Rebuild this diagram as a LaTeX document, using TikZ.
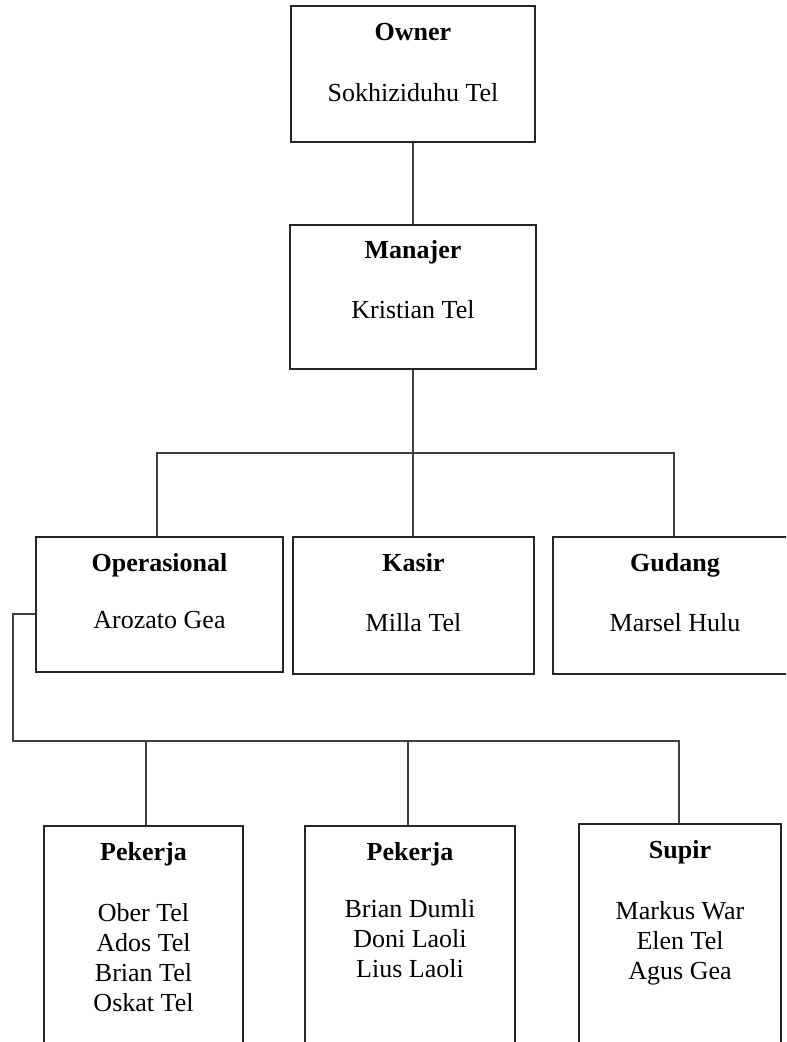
\documentclass[tikz,border=0pt]{standalone}
\usepackage{fontspec}
\setmainfont{Liberation Serif}
\usepackage{tikz}

\begin{document}
\begin{tikzpicture}[
        box/.style={draw=black!85, line width=1.3pt, inner sep=0pt},
        ttl/.style={font=\fontsize{18.5}{21.3}\selectfont\bfseries, text height=12.2pt, text depth=0pt, inner sep=0pt},
        nm/.style={font=\fontsize{18.5}{21.3}\selectfont, text height=12.2pt, text depth=0pt, inner sep=0pt},
        lst/.style={font=\fontsize{18.5}{21.3}\selectfont, align=center, anchor=north, inner sep=0pt},
        conn/.style={draw=black!75, line width=0.9pt}
    ]
        \useasboundingbox (0, 0) rectangle (19.65, 26.05);
        \clip (0, 0) rectangle (19.65, 26.05);
        \node[box, minimum width=6.1cm, minimum height=3.4cm] (owner) at (10.325, 24.2) {};
        \node[ttl] (ownerT) at (10.325, 25.25) {Owner};
        \node[nm] (ownerN) at (10.325, 23.725) {Sokhiziduhu Tel};
        \node[box, minimum width=6.15cm, minimum height=3.6cm] (manajer) at (10.325, 18.625) {};
        \node[ttl] (manajerT) at (10.325, 19.8) {Manajer};
        \node[nm] (manajerN) at (10.325, 18.3) {Kristian Tel};
        \node[box, minimum width=6.175cm, minimum height=3.375cm] (opr) at (3.9875, 10.9375) {};
        \node[ttl] (oprT) at (3.9875, 11.975) {Operasional};
        \node[nm] (oprN) at (3.9875, 10.55) {Arozato Gea};
        \node[box, minimum width=6.025cm, minimum height=3.425cm] (kasir) at (10.3375, 10.9125) {};
        \node[ttl] (kasirT) at (10.3375, 11.975) {Kasir};
        \node[nm] (kasirN) at (10.3375, 10.475) {Milla Tel};
        \node[box, minimum width=6.1cm, minimum height=3.425cm] (gudang) at (16.875, 10.9125) {};
        \node[ttl] (gudangT) at (16.875, 11.975) {Gudang};
        \node[nm] (gudangN) at (16.875, 10.475) {Marsel Hulu};
        \node[box, minimum width=4.975cm, minimum height=6.6cm] (pek1) at (3.5875, 2.1) {};
        \node[ttl] (pek1T) at (3.5875, 4.75) {Pekerja};
        \node[lst] (pek1N) at (3.5875, 3.475) {Ober Tel\\Ados Tel\\Brian Tel\\Oskat Tel};
        \node[box, minimum width=5.25cm, minimum height=6.6cm] (pek2) at (10.25, 2.1) {};
        \node[ttl] (pek2T) at (10.25, 4.75) {Pekerja};
        \node[lst] (pek2N) at (10.25, 3.575) {Brian Dumli\\Doni Laoli\\Lius Laoli};
        \node[box, minimum width=5.05cm, minimum height=6.65cm] (supir) at (17.0, 2.125) {};
        \node[ttl] (supirT) at (17.0, 4.8) {Supir};
        \node[lst] (supirN) at (17.0, 3.525) {Markus War\\Elen Tel\\Agus Gea};
        \coordinate (busL) at (3.925, 14.725);
        \coordinate (busR) at (16.85, 14.725);
        \coordinate (stub) at (0.325, 10.7);
        \coordinate (low) at (0.325, 7.525);
        \coordinate (drop1) at (3.65, 7.525);
        \coordinate (drop2) at (10.2, 7.525);
        \coordinate (drop3) at (16.975, 7.525);
        \draw[conn] (owner.south) -- (manajer.north);
        \draw[conn] (manajer.south) -- (manajer.south |- kasir.north);
        \draw[conn] (busL |- opr.north) -- (busL) -- (busR) -- (busR |- gudang.north);
        \draw[conn] (opr.west |- stub) -- (stub) -- (low) -- (drop3) -- (drop3 |- supir.north);
        \draw[conn] (drop1) -- (drop1 |- pek1.north);
        \draw[conn] (drop2) -- (drop2 |- pek2.north);
      \end{tikzpicture}
\end{document}
